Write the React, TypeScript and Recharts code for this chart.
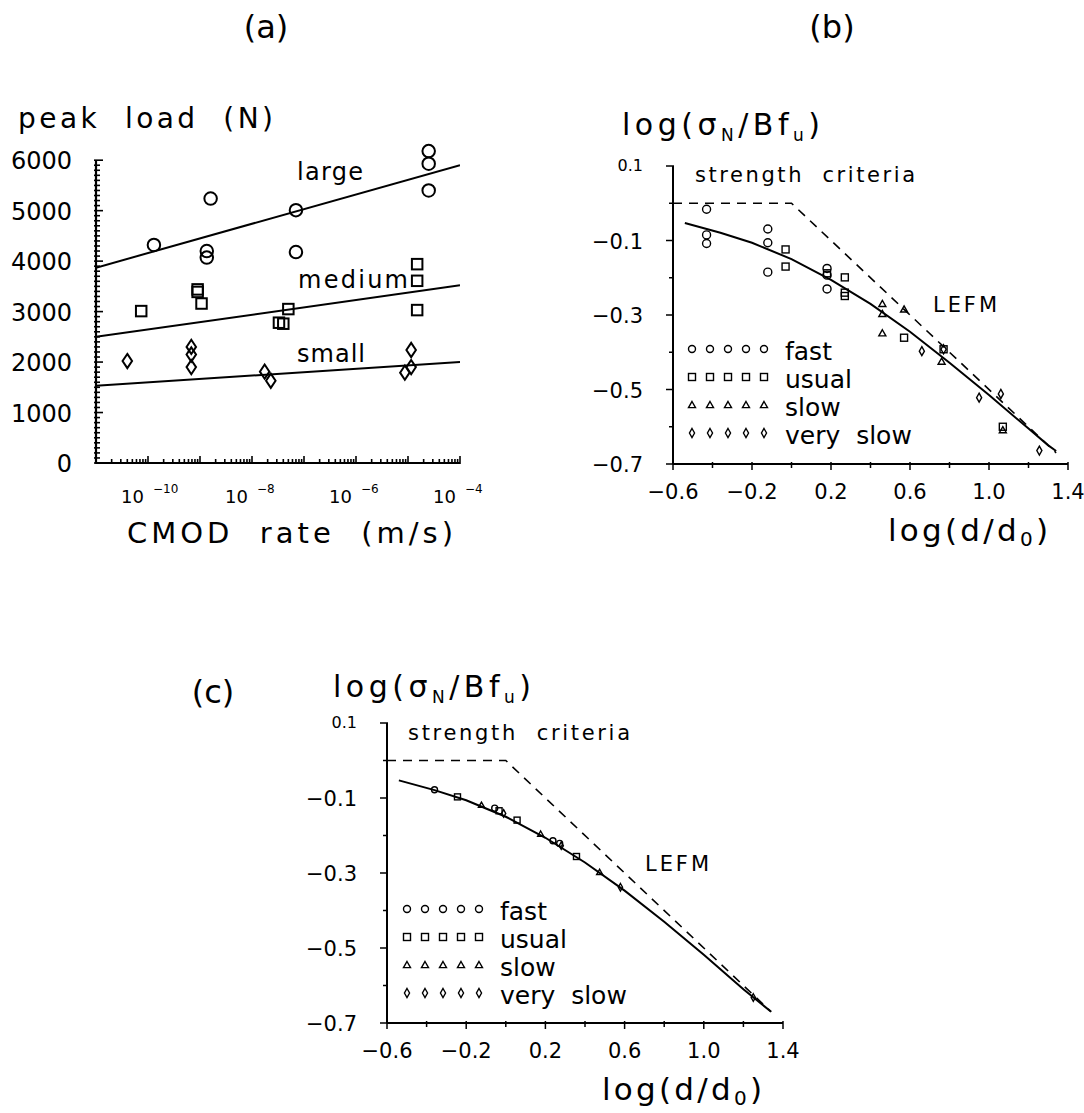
import React from "react";
import { ScatterChart, Scatter, XAxis, YAxis, ReferenceLine, Legend } from "recharts";

const FONT = "'DejaVu Sans', sans-serif";
const INK = "#000";

type Pair = [number, number];

// (a) peak load against CMOD rate, three specimen sizes
const largeRate = [1.3e-10, 1.6e-9, 1.35e-9, 1.35e-9, 7e-8, 7e-8, 2.5e-5, 2.5e-5, 2.5e-5];
const largeLoad = [4320, 5240, 4200, 4070, 5010, 4180, 6180, 5930, 5400];
const mediumRate = [7.4e-11, 9e-10, 9e-10, 1.07e-9, 5e-8, 3.3e-8, 4e-8, 1.5e-5, 1.5e-5, 1.5e-5];
const mediumLoad = [3010, 3440, 3390, 3160, 3050, 2780, 2760, 3940, 3610, 3030];
const smallRate = [4e-11, 6.8e-10, 6.8e-10, 6.8e-10, 1.75e-8, 2.3e-8, 1.15e-5, 8.7e-6, 1.15e-5];
const smallLoad = [2020, 2300, 2150, 1900, 1810, 1630, 2240, 1790, 1900];
const fitRate = [1e-11, 1e-4];
const largeFit = [3870, 5900];
const mediumFit = [2500, 3520];
const smallFit = [1530, 2000];
const rateDecades = [-11, -10, -9, -8, -7, -6, -5, -4];
const rateLabelled = [-10, -8, -6, -4];
const loadLabels = [0, 1000, 2000, 3000, 4000, 5000, 6000];

// (b) measured log(sigmaN/Bfu) against log(d/d0)
const fastB: Pair[] = [[-0.43, -0.016], [-0.43, -0.085], [-0.43, -0.108], [-0.12, -0.069], [-0.12, -0.106], [-0.12, -0.185], [0.18, -0.175], [0.18, -0.193], [0.18, -0.23]];
const usualB: Pair[] = [[-0.03, -0.124], [-0.03, -0.17], [0.18, -0.188], [0.27, -0.199], [0.27, -0.24], [0.27, -0.249], [0.57, -0.361], [0.77, -0.392], [1.07, -0.6]];
const slowB: Pair[] = [[0.46, -0.27], [0.46, -0.297], [0.46, -0.349], [0.57, -0.285], [0.76, -0.425], [1.07, -0.609]];
const verySlowB: Pair[] = [[0.66, -0.397], [0.77, -0.392], [0.95, -0.522], [1.06, -0.512], [1.255, -0.664]];
const sizeLawB: Pair[] = [[-0.54, -0.053], [-0.36, -0.079], [-0.2, -0.106], [0, -0.15], [0.2, -0.206], [0.4, -0.27], [0.6, -0.345], [0.8, -0.428], [1.0, -0.515], [1.2, -0.605], [1.3, -0.65], [1.34, -0.665]];

// (c) fitted points on the size effect curve
const fastC: Pair[] = [[-0.36, -0.078], [-0.056, -0.127], [0.238, -0.214], [0.272, -0.221]];
const usualC: Pair[] = [[-0.244, -0.097], [-0.034, -0.134], [0.057, -0.159], [0.357, -0.256]];
const slowC: Pair[] = [[-0.123, -0.119], [0.176, -0.196], [0.474, -0.298]];
const verySlowC: Pair[] = [[-0.011, -0.141], [0.28, -0.227], [0.579, -0.338], [1.25, -0.632]];
const sizeLawC: Pair[] = [[-0.54, -0.053], [-0.36, -0.079], [-0.2, -0.106], [0, -0.15], [0.2, -0.206], [0.4, -0.272], [0.6, -0.347], [0.8, -0.43], [1.0, -0.518], [1.2, -0.61], [1.34, -0.67]];

const criteriaLine: Pair[] = [[-0.6, 0], [0, 0], [1.34, -0.67]];
const sizeTicks = [-0.6, -0.4, -0.2, 0, 0.2, 0.4, 0.6, 0.8, 1.0, 1.2, 1.4];
const sizeLabels = [-0.6, -0.2, 0.2, 0.6, 1.0, 1.4];
const strengthTicks = [-0.7, -0.6, -0.5, -0.4, -0.3, -0.2, -0.1, 0, 0.1];
const strengthLabels = [-0.7, -0.5, -0.3, -0.1, 0.1];

const legendRows = [
  { kind: "circle", label: "fast" },
  { kind: "square", label: "usual" },
  { kind: "triangle", label: "slow" },
  { kind: "diamond", label: "very  slow" },
];

const zip = (xs: number[], ys: number[]) => xs.map((x, i) => ({ x, y: ys[i] }));
const fromPairs = (ps: Pair[]) => ps.map(([x, y]) => ({ x, y }));
const near = (a: number, list: number[]) => list.some((b) => Math.abs(a - b) < 1e-6);
const fmt = (v: number) => (v < 0 ? "\u2212" + Math.abs(v).toFixed(1) : v.toFixed(1));

const rateTicks: number[] = [];
rateDecades.forEach((n) => {
  rateTicks.push(10 ** n);
  if (n < -4) for (let k = 2; k <= 9; k++) rateTicks.push(k * 10 ** n);
});
const loadTicks: number[] = [];
for (let v = 0; v <= 6000; v += 100) loadTicks.push(v);

// hollow plotter-style symbols; diamonds are taller than wide
const Marker = ({ kind, cx, cy, size, sw, wr = 1 }: any) => {
  const common = { fill: "none", stroke: INK, strokeWidth: sw };
  const h = size / 2;
  if (kind === "circle") return <circle cx={cx} cy={cy} r={h} {...common} />;
  if (kind === "square") return <rect x={cx - h} y={cy - h} width={size} height={size} {...common} />;
  if (kind === "triangle")
    return <polygon points={`${cx},${cy - h} ${cx + h},${cy + h * 0.75} ${cx - h},${cy + h * 0.75}`} {...common} />;
  const hw = h * wr;
  const hh = size * 0.75;
  return <polygon points={`${cx},${cy - hh} ${cx + hw},${cy} ${cx},${cy + hh} ${cx - hw},${cy}`} {...common} />;
};

const mark = (kind: string, size: number, sw: number, wr = 1) => (p: any) =>
  <Marker kind={kind} cx={p.cx} cy={p.cy} size={size} sw={sw} wr={wr} />;

const NoDot = () => <g />;

const RateTick = (props: any) => {
  const { x, y, payload } = props;
  const e = Math.log10(payload.value);
  const n = Math.round(e);
  const decade = Math.abs(e - n) < 1e-6;
  return (
    <g>
      <line x1={x} x2={x} y1={y + 1} y2={y - (decade ? 7 : 4)} stroke={INK} strokeWidth={1.6} />
      {decade && rateLabelled.includes(n) && (
        <g fontFamily={FONT} fill={INK}>
          <text x={x - 4} y={y + 40} textAnchor="end" fontSize={18}>10</text>
          <text x={x + 5} y={y + 30} fontSize={12}>{"\u2212" + Math.abs(n)}</text>
        </g>
      )}
    </g>
  );
};

const LoadTick = (props: any) => {
  const { x, y, payload } = props;
  const major = loadLabels.includes(payload.value);
  return (
    <g>
      <line x1={x - 2} x2={x + (major ? 7 : 4)} y1={y} y2={y} stroke={INK} strokeWidth={1.6} />
      {major && (
        <text x={x - 24} y={y + 9} textAnchor="end" fontSize={24} fontFamily={FONT} fill={INK}>
          {payload.value}
        </text>
      )}
    </g>
  );
};

const SizeTick = (props: any) => {
  const { x, y, payload } = props;
  const major = near(payload.value, sizeLabels);
  return (
    <g>
      <line x1={x} x2={x} y1={y - 2} y2={y + (major ? 6 : 4)} stroke={INK} strokeWidth={1.5} />
      {major && (
        <text x={x} y={y + 35} textAnchor="middle" fontSize={21} fontFamily={FONT} fill={INK}>
          {fmt(payload.value)}
        </text>
      )}
    </g>
  );
};

const StrengthTick = (props: any) => {
  const { x, y, payload } = props;
  const major = near(payload.value, strengthLabels);
  const top = payload.value > 0.05;
  return (
    <g>
      <line x1={x - (major ? 7 : 4)} x2={x + 1} y1={y} y2={y} stroke={INK} strokeWidth={1.5} />
      {major && (
        <text x={x - 30} y={y + (top ? 5 : 8)} textAnchor="end" fontSize={top ? 16 : 21} fontFamily={FONT} fill={INK}>
          {fmt(payload.value)}
        </text>
      )}
    </g>
  );
};

const RateKey = () => (
  <svg width={260} height={112} style={{ display: "block", overflow: "visible" }}>
    {legendRows.map((r, i) => (
      <g key={r.label}>
        {[0, 1, 2, 3, 4].map((j) => (
          <Marker key={j} kind={r.kind} cx={8 + j * 18} cy={14 + i * 28} size={r.kind === "diamond" ? 6 : 7} sw={1.4} wr={0.85} />
        ))}
        <text x={101} y={25 + i * 28} fontSize={25} fontFamily={FONT} fill={INK} style={{ whiteSpace: "pre" }}>
          {r.label}
        </text>
      </g>
    ))}
  </svg>
);

const axisStyle = { stroke: INK, strokeWidth: 2 };
const solid = { stroke: INK, strokeWidth: 2 };
const dashed = { stroke: INK, strokeWidth: 1.6, strokeDasharray: "9 7" };

const SizePanel = ({ pts, curve, left, top, width, height, margin, legendPos, small }: any) => (
  <div style={{ position: "absolute", left, top }}>
    <ScatterChart width={width} height={height} margin={margin}>
      <XAxis type="number" dataKey="x" domain={[-0.6, 1.4]} ticks={sizeTicks} interval={0}
        tickSize={0} tickMargin={0} tickLine={false} axisLine={axisStyle} tick={SizeTick} height={40} />
      <YAxis type="number" dataKey="y" domain={[-0.7, 0.1]} ticks={strengthTicks} interval={0}
        tickSize={0} tickMargin={0} tickLine={false} axisLine={axisStyle} tick={StrengthTick} width={80} />
      <Scatter data={fromPairs(criteriaLine)} line={dashed} shape={NoDot} isAnimationActive={false} />
      <Scatter data={fromPairs(curve)} line={solid} shape={NoDot} isAnimationActive={false} />
      <Scatter data={fromPairs(pts[0])} shape={mark("circle", small ? 6 : 8, 1.4)} isAnimationActive={false} />
      <Scatter data={fromPairs(pts[1])} shape={mark("square", small ? 6 : 7, 1.4)} isAnimationActive={false} />
      <Scatter data={fromPairs(pts[2])} shape={mark("triangle", small ? 6 : 7, 1.4)} isAnimationActive={false} />
      <Scatter data={fromPairs(pts[3])} shape={mark("diamond", small ? 5 : 6, 1.4, 0.85)} isAnimationActive={false} />
      <Legend layout="vertical" align="center" verticalAlign="middle" content={RateKey}
        wrapperStyle={{ left: legendPos[0], top: legendPos[1], width: 260 }} />
    </ScatterChart>
  </div>
);

const T = ({ x, y, size, len, anchor, children }: any) => (
  <text x={x} y={y} fontSize={size} textAnchor={anchor || "start"} textLength={len}
    lengthAdjust={len ? "spacing" : undefined} fontFamily={FONT} fill={INK} style={{ whiteSpace: "pre" }}>
    {children}
  </text>
);

const StrengthLabel = ({ x, y }: any) => (
  <T x={x} y={y} size={30} len={198}>
    log(σ<tspan fontSize={17} dy={6}>N</tspan><tspan dy={-6}>/Bf</tspan><tspan fontSize={17} dy={6}>u</tspan><tspan dy={-6}>)</tspan>
  </T>
);

const SizeLabel = ({ x, y }: any) => (
  <T x={x} y={y} size={31} len={160}>
    log(d/d<tspan fontSize={20} dy={5}>0</tspan><tspan dy={-5}>)</tspan>
  </T>
);

export default function App() {
  return (
    <div style={{ position: "absolute", left: 0, top: 0, width: 1084, height: 1113, background: "#fff", fontFamily: FONT }}>
      <div style={{ position: "absolute", left: 0, top: 0 }}>
        <ScatterChart width={510} height={540} margin={{ top: 140, right: 50, bottom: 37, left: 20 }}>
          <XAxis type="number" dataKey="x" scale="log" domain={[1e-11, 1e-4]} allowDataOverflow ticks={rateTicks}
            interval={0} tickSize={0} tickMargin={0} tickLine={false} axisLine={axisStyle} tick={RateTick} height={40} />
          <YAxis type="number" dataKey="y" domain={[0, 6400]} ticks={loadTicks} interval={0}
            tickSize={0} tickMargin={0} tickLine={false} axisLine={false} tick={LoadTick} width={76} />
          <ReferenceLine segment={[{ x: 1e-11, y: 0 }, { x: 1e-11, y: 6000 }]} stroke={INK} strokeWidth={2.2} ifOverflow="visible" />
          <Scatter data={zip(fitRate, largeFit)} line={solid} shape={NoDot} isAnimationActive={false} />
          <Scatter data={zip(fitRate, mediumFit)} line={solid} shape={NoDot} isAnimationActive={false} />
          <Scatter data={zip(fitRate, smallFit)} line={solid} shape={NoDot} isAnimationActive={false} />
          <Scatter data={zip(largeRate, largeLoad)} shape={mark("circle", 12.5, 2)} isAnimationActive={false} />
          <Scatter data={zip(mediumRate, mediumLoad)} shape={mark("square", 10.5, 2)} isAnimationActive={false} />
          <Scatter data={zip(smallRate, smallLoad)} shape={mark("diamond", 9.5, 2, 1)} isAnimationActive={false} />
        </ScatterChart>
      </div>

      <SizePanel pts={[fastB, usualB, slowB, verySlowB]} curve={sizeLawB} left={560} top={100} width={524} height={440}
        margin={{ top: 66, right: 16, bottom: 36, left: 33 }} legendPos={[124, 235]} />
      <SizePanel pts={[fastC, usualC, slowC, verySlowC]} curve={sizeLawC} left={280} top={640} width={520} height={460}
        margin={{ top: 83, right: 17, bottom: 37, left: 27 }} legendPos={[119, 255]} small />

      <svg width={1084} height={1113} style={{ position: "absolute", left: 0, top: 0, pointerEvents: "none" }}>
        <T x={266} y={38} size={32} anchor="middle">(a)</T>
        <T x={832} y={38} size={32} anchor="middle">(b)</T>
        <T x={213} y={703} size={32} anchor="middle">(c)</T>

        <T x={18} y={128} size={28} len={255}>peak  load  (N)</T>
        <T x={127} y={543} size={29} len={326}>CMOD  rate  (m/s)</T>
        <T x={297} y={180} size={24} len={66}>large</T>
        <T x={298} y={288} size={24} len={110}>medium</T>
        <T x={297} y={362} size={24} len={68}>small</T>

        <StrengthLabel x={622} y={135} />
        <T x={695} y={182} size={21} len={220}>strength  criteria</T>
        <T x={933} y={312} size={21} len={64}>LEFM</T>
        <SizeLabel x={888} y={541} />

        <StrengthLabel x={333} y={697} />
        <T x={408} y={740} size={21} len={222}>strength  criteria</T>
        <T x={645} y={871} size={21} len={64}>LEFM</T>
        <SizeLabel x={602} y={1100} />
      </svg>
    </div>
  );
}
